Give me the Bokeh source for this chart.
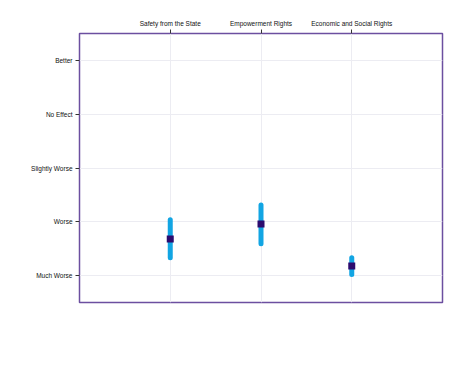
from bokeh.plotting import figure
from bokeh.models import LinearAxis, FixedTicker, Range1d, ColumnDataSource, Grid
from bokeh.embed import file_html
from bokeh.resources import INLINE

categories = ["Safety from the State", "Empowerment Rights", "Economic and Social Rights"]
y_labels = ["Much Worse", "Worse", "Slightly Worse", "No Effect", "Better"]
means = [1.68, 1.96, 1.18]
lower = [1.33, 1.59, 1.02]
upper = [2.04, 2.31, 1.33]

xs = [i + 1 for i in range(len(categories))]
src = ColumnDataSource(dict(x=xs, m=means, lo=lower, hi=upper))

p = figure(width=474, height=370, output_backend="svg", toolbar_location=None,
           x_range=Range1d(0, 4), y_range=Range1d(0.5, 5.5),
           x_axis_location=None, y_axis_location=None,
           min_border_left=79, min_border_right=32, min_border_top=33, min_border_bottom=68)
p.center = []

font = "Liberation Sans"
fs = "6.5px"

ax_top = LinearAxis(ticker=FixedTicker(ticks=xs),
                    major_label_overrides={x: c for x, c in zip(xs, categories)})
ax_left = LinearAxis(ticker=FixedTicker(ticks=[1, 2, 3, 4, 5]),
                     major_label_overrides={i + 1: l for i, l in enumerate(y_labels)})
for ax in (ax_top, ax_left):
    ax.axis_line_color = None
    ax.minor_tick_line_color = None
    ax.major_tick_in = 0
    ax.major_tick_out = 4
    ax.major_tick_line_color = "#333333"
    ax.major_label_text_font = font
    ax.major_label_text_font_size = fs
    ax.major_label_text_color = "#111111"
    ax.major_label_standoff = 3
p.add_layout(ax_top, "above")
p.add_layout(ax_left, "left")

p.add_layout(Grid(dimension=0, ticker=ax_top.ticker, grid_line_color="#ececf2", grid_line_width=1))
p.add_layout(Grid(dimension=1, ticker=ax_left.ticker, grid_line_color="#ececf2", grid_line_width=1))

p.outline_line_color = "#6c4fa0"
p.outline_line_width = 1.5
p.outline_line_alpha = 1

p.segment(x0="x", y0="lo", x1="x", y1="hi", source=src, line_color="#12a5e3",
          line_width=5, line_cap="round")
p.scatter(x="x", y="m", source=src, marker="square", size=7,
          fill_color="#2c0b6e", line_color=None)

open("out.html", "w").write(file_html(p, INLINE))
